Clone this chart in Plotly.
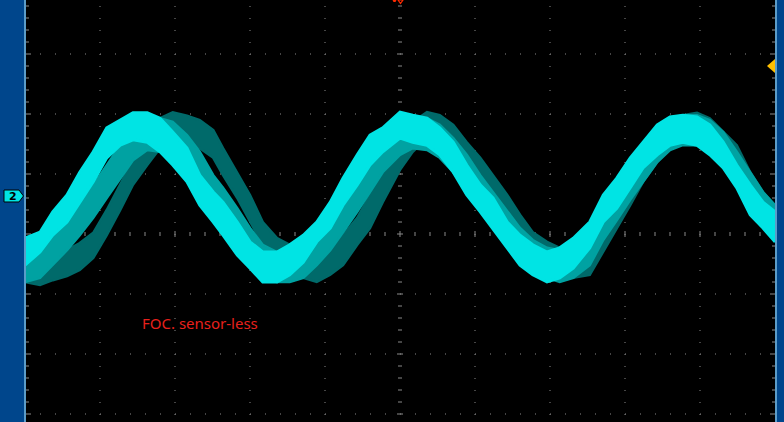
import plotly.graph_objects as go

# ---- data (time in divisions, amplitude in divisions) ----
T_DIV = [0.00, 0.20, 0.37, 0.56, 0.73, 0.91, 1.09, 1.27, 1.44, 1.63, 1.80, 1.97, 2.16, 2.33, 2.51,
         2.64, 2.83, 3.00, 3.17, 3.36, 3.53, 3.71, 3.89, 4.07, 4.24, 4.43, 4.60, 4.77, 5.00, 5.17,
         5.36, 5.53, 5.71, 5.89, 6.07, 6.24, 6.43, 6.60, 6.77, 6.96, 7.13, 7.31, 7.53, 7.71, 7.89,
         8.07, 8.24, 8.43, 8.60, 8.77, 8.96, 9.13, 9.31, 9.49, 9.67, 9.84, 10.00]

# newest sweep (bright cyan)
CYAN_TOP = [-0.07, 0.03, 0.37, 0.65, 1.03, 1.37, 1.77, 1.90, 2.02, 2.02, 1.93, 1.70, 1.43, 0.98, 0.70,
            0.53, 0.20, -0.13, -0.30, -0.30, -0.18, -0.02, 0.20, 0.53, 0.93, 1.32, 1.65, 1.77, 2.03, 1.98,
            1.93, 1.77, 1.53, 1.15, 0.82, 0.60, 0.20, -0.02, -0.18, -0.30, -0.23, -0.07, 0.20, 0.65, 0.93,
            1.27, 1.53, 1.82, 1.95, 1.98, 1.95, 1.82, 1.53, 1.15, 0.82, 0.53, 0.37]
CYAN_BOT = [-0.52, -0.30, -0.02, 0.20, 0.53, 0.87, 1.27, 1.48, 1.57, 1.53, 1.37, 1.15, 0.87, 0.48, 0.20,
            -0.02, -0.35, -0.57, -0.80, -0.80, -0.68, -0.47, -0.13, 0.10, 0.48, 0.82, 1.15, 1.37, 1.60, 1.53,
            1.48, 1.32, 1.03, 0.65, 0.37, 0.10, -0.23, -0.52, -0.68, -0.80, -0.73, -0.57, -0.23, 0.20, 0.43,
            0.77, 1.10, 1.32, 1.48, 1.53, 1.48, 1.32, 1.10, 0.77, 0.32, 0.10, -0.13]

# persistence sweep (medium teal)
MID_TOP = [-0.23, -0.18, -0.02, 0.23, 0.48, 0.82, 1.15, 1.48, 1.77, 1.90, 1.93, 1.87, 1.65, 1.37, 0.98,
           0.77, 0.43, 0.10, -0.18, -0.30, -0.30, -0.18, -0.02, 0.23, 0.57, 0.90, 1.23, 1.53, 1.82, 1.93,
           1.93, 1.82, 1.60, 1.32, 0.98, 0.70, 0.40, 0.10, -0.10, -0.23, -0.27, -0.18, 0.03, 0.40, 0.77,
           1.10, 1.40, 1.70, 1.90, 1.98, 1.98, 1.90, 1.70, 1.37, 1.03, 0.70, 0.48]
MID_BOT = [-0.80, -0.73, -0.52, -0.27, -0.02, 0.27, 0.60, 0.93, 1.23, 1.40, 1.37, 1.23, 1.03, 0.82, 0.48,
           0.23, -0.07, -0.40, -0.63, -0.80, -0.80, -0.73, -0.52, -0.27, 0.03, 0.37, 0.70, 1.03, 1.32, 1.43,
           1.40, 1.27, 1.03, 0.73, 0.43, 0.20, -0.10, -0.35, -0.57, -0.73, -0.80, -0.73, -0.52, -0.10, 0.23,
           0.57, 0.87, 1.20, 1.40, 1.48, 1.48, 1.37, 1.15, 0.87, 0.48, 0.15, -0.07]

# oldest sweep (dark teal)
DARK_TOP = [-0.35, -0.35, -0.32, -0.27, -0.15, 0.02, 0.40, 0.83, 1.23, 1.57, 1.93, 2.03, 1.97, 1.90, 1.73,
            1.43, 1.03, 0.65, 0.20, -0.07, -0.18, -0.35, -0.35, -0.23, -0.02, 0.27, 0.65, 1.10, 1.57, 1.87,
            2.03, 1.98, 1.82, 1.53, 1.27, 0.98, 0.65, 0.32, 0.03, -0.13, -0.23, -0.23, -0.07, 0.27, 0.65,
            1.03, 1.37, 1.70, 1.93, 1.98, 2.02, 1.93, 1.70, 1.48, 1.03, 0.70, 0.48]
DARK_BOT = [-0.80, -0.85, -0.77, -0.70, -0.60, -0.40, -0.02, 0.40, 0.82, 1.15, 1.43, 1.52, 1.52, 1.43, 1.27,
            0.98, 0.60, 0.20, -0.18, -0.40, -0.63, -0.73, -0.80, -0.68, -0.52, -0.18, 0.10, 0.53, 1.07, 1.37,
            1.60, 1.48, 1.27, 1.03, 0.77, 0.48, 0.15, -0.13, -0.35, -0.52, -0.68, -0.73, -0.68, -0.30, 0.10,
            0.48, 0.87, 1.20, 1.43, 1.53, 1.53, 1.43, 1.27, 0.93, 0.53, 0.20, -0.02]

LABEL = "FOC. sensor-less"
CH_LABEL = "2"

# ---- geometry helpers (screen layout) ----
W, H = 784, 422
X0_PX, DIV_X = 25.0, 75.0      # x=0 div at px 25, 75 px/div
Y0_PX, DIV_Y = 234.0, 60.0     # y=0 div at px 234, 60 px/div
XR = [(0 - X0_PX) / DIV_X, (W - X0_PX) / DIV_X]
YR = [(Y0_PX - H) / DIV_Y, (Y0_PX - 0) / DIV_Y]


def dx(px):
    return (px - X0_PX) / DIV_X


def dy(py):
    return (Y0_PX - py) / DIV_Y


GRID = "#8a8a8a"
fig = go.Figure()


def band(top, bot, color, lw):
    fig.add_trace(go.Scatter(
        x=T_DIV + T_DIV[::-1], y=top + bot[::-1], mode="lines", fill="toself",
        fillcolor=color, line=dict(color=color, width=lw), hoverinfo="skip", showlegend=False))


band(DARK_TOP, DARK_BOT, "#006a6a", 2.5)
band(MID_TOP, MID_BOT, "#00a2a2", 2.5)
band(CYAN_TOP, CYAN_BOT, "#00e4e4", 3)

shapes = []
# dotted grid (vertical lines)
for k in range(1, 10):
    if k == 5:
        continue
    shapes.append(dict(type="line", layer="below", x0=k, x1=k, y0=dy(-6), y1=dy(H),
                       line=dict(color=GRID, width=1, dash="1px,11px")))
# dotted grid (horizontal lines)
for k in [3, 2, 1, -1, -2, -3]:
    shapes.append(dict(type="line", layer="below", x0=0, x1=10, y0=k, y1=k,
                       line=dict(color=GRID, width=1, dash="1px,14px")))

# tick marks along centre vertical axis and left/right edges
k = 0
py = -6
while py <= H:
    major = (k % 5 == 0)
    y = dy(py)
    half = 3 if major else 2
    shapes.append(dict(type="line", layer="below", x0=dx(400 - half), x1=dx(400 + half), y0=y, y1=y,
                       line=dict(color=GRID, width=1)))
    L = 5 if major else 3
    shapes.append(dict(type="line", layer="below", x0=dx(26), x1=dx(26 + L), y0=y, y1=y,
                       line=dict(color=GRID, width=1)))
    shapes.append(dict(type="line", layer="below", x0=dx(775 - L), x1=dx(775), y0=y, y1=y,
                       line=dict(color=GRID, width=1)))
    py += 12
    k += 1
# tick marks along centre horizontal axis
for k in range(0, 51):
    major = (k % 5 == 0)
    px = 25 + 15 * k
    half = 3 if major else 2
    shapes.append(dict(type="line", layer="below", x0=dx(px), x1=dx(px), y0=dy(234 - half), y1=dy(234 + half),
                       line=dict(color=GRID, width=1)))


def ppath(pts, fill, line=None, lw=0):
    d = "M " + " L ".join(f"{x / W:.5f},{1 - y / H:.5f}" for x, y in pts) + " Z"
    return dict(type="path", xref="paper", yref="paper", path=d, fillcolor=fill,
                line=dict(color=line or fill, width=lw), layer="above")


# side bars
shapes.append(dict(type="rect", xref="paper", yref="paper", x0=0, x1=24 / W, y0=0, y1=1,
                   fillcolor="#00468c", line=dict(width=0), layer="above"))
shapes.append(dict(type="rect", xref="paper", yref="paper", x0=24 / W, x1=26 / W, y0=0, y1=1,
                   fillcolor="#5b9cc8", line=dict(width=0), layer="above"))
shapes.append(dict(type="rect", xref="paper", yref="paper", x0=775 / W, x1=777 / W, y0=0, y1=1,
                   fillcolor="#5b9cc8", line=dict(width=0), layer="above"))
shapes.append(dict(type="rect", xref="paper", yref="paper", x0=777 / W, x1=1, y0=0, y1=1,
                   fillcolor="#00468c", line=dict(width=0), layer="above"))
# channel 2 marker
shapes.append(ppath([(4, 190), (19, 190), (23.5, 196), (19, 202), (4, 202)], "#00e4e4", "#000000", 1))
# trigger level marker (right)
shapes.append(ppath([(775, 59), (767, 66), (775, 73)], "#ffc000"))
# trigger position marker (top)
shapes.append(ppath([(398, 0), (400.5, 3.5), (403, 0)], "rgba(0,0,0,0)", "#ff2a00", 1.2))
shapes.append(ppath([(392.5, 0), (396.5, 0), (395.5, 2), (393.5, 2)], "#ff2a00"))

fig.update_layout(
    width=W, height=H, margin=dict(l=0, r=0, t=0, b=0),
    paper_bgcolor="#000000", plot_bgcolor="#000000",
    xaxis=dict(range=XR, visible=False, fixedrange=True),
    yaxis=dict(range=YR, visible=False, fixedrange=True),
    shapes=shapes, showlegend=False,
    annotations=[
        dict(xref="paper", yref="paper", x=140 / W, y=1 - 323 / H, xanchor="left", yanchor="middle",
             text=LABEL, showarrow=False, font=dict(family="Noto Sans", size=15, color="#e8201c")),
        dict(xref="paper", yref="paper", x=12.5 / W, y=1 - 196 / H, xanchor="center", yanchor="middle",
             text="<b>" + CH_LABEL + "</b>", showarrow=False,
             font=dict(family="DejaVu Sans", size=11, color="#000000")),
    ],
)

fig.write_html("out.html", config={"displayModeBar": False},
               post_script="document.body.style.margin='0';document.body.style.padding='0';"
                           "document.body.style.overflow='hidden';document.body.style.background='#000';")
